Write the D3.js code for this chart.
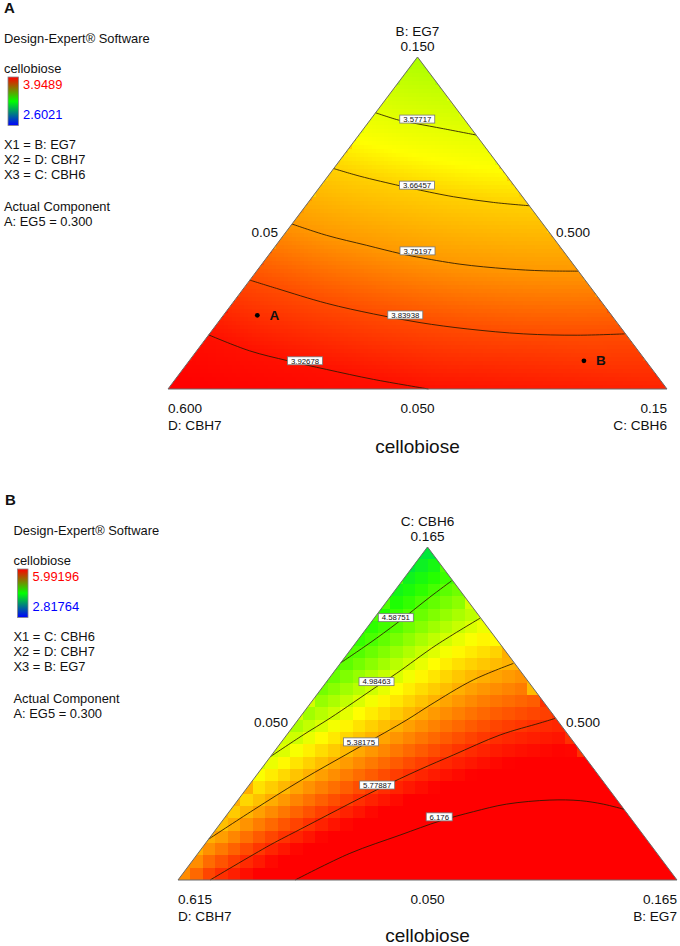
<!DOCTYPE html>
<html>
<head>
<meta charset="utf-8">
<script src="https://cdnjs.cloudflare.com/ajax/libs/d3/7.8.5/d3.min.js"></script>
<style>
  html, body { margin: 0; padding: 0; background: #fff; }
  svg { display: block; }
  text { font-family: "Liberation Sans", Arial, sans-serif; fill: #111; }
</style>
</head>
<body>
<svg id="chart" width="680" height="946"></svg>
<script>
// panel A: contour levels, read as (top component, right component) mixture amounts
const levelsA = [3.57717, 3.66457, 3.75197, 3.83938, 3.92678];
const levelNamesA = ["3.57717", "3.66457", "3.75197", "3.83938", "3.92678"];
const topA = [
  [.1332, .1309, .1299, .1284, .1265],
  [.1164, .1141, .1112, .1101, .1079, .1062, .1052],
  [.0997, .0963, .0933, .0908, .0898, .0876, .0862, .0856, .0855],
  [.0828, .0803, .0758, .0726, .0700, .0681, .0666, .0662, .0666],
  [.0663, .0615, .0585, .0559, .0529, .0500]
];
const rightA = [
  [.0500, .0560, .0599, .0660, .0735],
  [.0500, .0564, .0659, .0698, .0783, .0871, .0948],
  [.0500, .0586, .0681, .0761, .0799, .0897, .0998, .1074, .1145],
  [.0500, .0566, .0689, .0799, .0905, .1009, .1130, .1239, .1332],
  [.0500, .0606, .0698, .0788, .0897, .1022]
];
const labelTopA = [.1313, .1114, .0916, .0723, .0585];
const labelRightA = [.0593, .0692, .0792, .0864, .0732];
// extra readings of the surface away from the contours (corners)
const cornerLevelsA = [3.47, 3.965, 3.90];
const cornerTopA = [.15, .05, .05];
const cornerRightA = [.05, .05, .15];
const pointNamesA = ["A", "B"];
const pointTopA = [.0722, .0585];
const pointRightA = [.0568, .1291];
const colorLevelsA = [3.47, 3.577, 3.62, 3.665, 3.752, 3.839, 3.927, 3.96];
const colorsA = ["#aaff00", "#e4ff00", "#ffff00", "#ffd000", "#ff9800", "#ff4c00", "#ff1000", "#ff0000"];

// panel B
const levelsB = [4.58751, 4.98463, 5.38175, 5.77887, 6.176];
const levelNamesB = ["4.58751", "4.98463", "5.38175", "5.77887", "6.176"];
const topB = [
  [.1250, .1319, .1387, .1477, .1533],
  [.0926, .1001, .1059, .1168, .1214, .1312, .1404],
  [.0641, .0742, .0842, .0960, .1053, .1104, .1191, .1248],
  [.0500, .0621, .0675, .0811, .0882, .0932, .1001, .1042, .1058],
  [.0500, .0592, .0655, .0704, .0736, .0762, .0776, .0774, .0762, .0744]
];
const rightB = [
  [.0500, .0533, .0561, .0592, .0614],
  [.0500, .0538, .0571, .0624, .0647, .0690, .0744],
  [.0500, .0553, .0610, .0689, .0751, .0779, .0835, .0899],
  [.0574, .0652, .0694, .0802, .0867, .0919, .0992, .1063, .1090],
  [.0770, .0850, .0934, .1002, .1063, .1126, .1219, .1290, .1349, .1406]
];
const labelTopB = [.1406, .1185, .0977, .0828, .0718];
const labelRightB = [.0549, .0615, .0683, .0795, .0993];
const cornerLevelsB = [4.2, 5.5, 6.3];
const cornerTopB = [.165, .05, .05];
const cornerRightB = [.05, .05, .165];
const colorLevelsB = [4.2, 4.45, 4.59, 4.98, 5.1, 5.38, 5.78, 5.95];
const colorsB = ["#00e83a", "#20ff00", "#50ff00", "#d0ff00", "#ffff00", "#ffb000", "#ff3000", "#ff0000"];

const svg = d3.select("#chart");
const defs = svg.append("defs");

// legend bar goes red - green - blue
const legendColors = ["#ff0000", "#00ff00", "#0000ff"];
const grad = defs.append("linearGradient").attr("id", "legendGrad")
  .attr("x1", 0).attr("y1", 0).attr("x2", 0).attr("y2", 1);
legendColors.forEach((c, i) => {
  grad.append("stop").attr("offset", i / 2).attr("stop-color", c);
});

// walk along a contour so the triangulation links each contour to its neighbours
function samplePoints(pts, level, step) {
  const out = [];
  for (let i = 0; i < pts.length - 1; i++) {
    const a = pts[i], b = pts[i + 1];
    const n = Math.max(1, Math.ceil(Math.hypot(b[0] - a[0], b[1] - a[1]) / step));
    for (let j = 0; j < n; j++) {
      out.push({ x: a[0] + (b[0] - a[0]) * j / n, y: a[1] + (b[1] - a[1]) * j / n, v: level });
    }
  }
  const last = pts[pts.length - 1];
  out.push({ x: last[0], y: last[1], v: level });
  return out;
}

function drawPanel(p) {
  const g = svg.append("g");
  const span = p.hi - p.lo;
  const y = d3.scaleLinear().domain([p.lo, p.hi]).range([p.baseY, p.apexY]);
  const xBase = d3.scaleLinear().domain([0, span]).range([p.leftX, p.rightX]);
  const pos = (top, right) => [xBase(right - p.lo + (top - p.lo) / 2), y(top)];
  const color = d3.scaleLinear().domain(p.colorLevels).range(p.colors).clamp(true);

  const clipId = "tri" + p.name;
  const triangle = [pos(p.hi, p.lo), pos(p.lo, p.lo), pos(p.lo, p.hi)];
  defs.append("clipPath").attr("id", clipId).append("polygon").attr("points", triangle.join(" "));

  // the surface as a grid of cells, coloured from the contour readings around each cell
  const lines = p.levels.map((lv, k) => ({
    level: lv,
    pts: p.tops[k].map((t, i) => pos(t, p.rights[k][i]))
  }));
  let known = lines.flatMap(l => samplePoints(l.pts, l.level, 5));
  p.cornerLevels.forEach((lv, k) => {
    const c = pos(p.cornerTops[k], p.cornerRights[k]);
    known.push({ x: c[0], y: c[1], v: lv });
  });
  const delaunay = d3.Delaunay.from(known, d => d.x, d => d.y);
  const tris = delaunay.triangles;
  const valueAt = (cx, cy) => {
    for (let t = 0; t < tris.length; t += 3) {
      const a = known[tris[t]], b = known[tris[t + 1]], c = known[tris[t + 2]];
      const den = (b.y - c.y) * (a.x - c.x) + (c.x - b.x) * (a.y - c.y);
      if (!den) continue;
      const u = ((b.y - c.y) * (cx - c.x) + (c.x - b.x) * (cy - c.y)) / den;
      const w = ((c.y - a.y) * (cx - c.x) + (a.x - c.x) * (cy - c.y)) / den;
      if (u >= -1e-6 && w >= -1e-6 && u + w <= 1 + 1e-6) return u * a.v + w * b.v + (1 - u - w) * c.v;
    }
    return known[delaunay.find(cx, cy)].v;
  };

  const cellW = (p.rightX - p.leftX) / p.cols;
  const cellH = (p.baseY - p.apexY) / p.rows;
  const cells = [];
  d3.range(p.rows).forEach(r => {
    d3.range(p.cols).forEach(c => {
      const cx = p.leftX + (c + .5) * cellW;
      const cy = p.apexY + (r + .5) * cellH;
      const half = (cy - p.apexY + cellH) * (p.rightX - p.leftX) / 2 / (p.baseY - p.apexY);
      if (Math.abs(cx - (p.leftX + p.rightX) / 2) > half + cellW) return;
      cells.push({ x: cx - cellW / 2, y: cy - cellH / 2, v: valueAt(cx, cy) });
    });
  });
  g.append("g").attr("clip-path", `url(#${clipId})`).selectAll("rect").data(cells).join("rect")
    .attr("x", d => d.x).attr("y", d => d.y)
    .attr("width", cellW + .5).attr("height", cellH + .5)
    .attr("fill", d => color(d.v))
    .attr("shape-rendering", "crispEdges");

  // contour lines
  const line = d3.line().curve(d3.curveCatmullRom);
  g.append("g").selectAll("path").data(lines).join("path")
    .attr("d", d => line(d.pts))
    .attr("fill", "none").attr("stroke", "#2a1a00").attr("stroke-opacity", .85).attr("stroke-width", 1);

  g.append("polygon").attr("points", triangle.join(" "))
    .attr("fill", "none").attr("stroke", "#6a6a6a").attr("stroke-width", 1);

  // contour labels
  p.levelNames.forEach((name, k) => {
    const c = pos(p.labelTops[k], p.labelRights[k]);
    const w = name.length > 5 ? 35 : 26;
    g.append("rect").attr("x", c[0] - w / 2).attr("y", c[1] - 4)
      .attr("width", w).attr("height", 8)
      .attr("fill", "#fff").attr("stroke", "#777").attr("stroke-width", .8);
    g.append("text").attr("x", c[0]).attr("y", c[1] + 2.8)
      .attr("text-anchor", "middle").attr("font-size", 7.8).attr("fill", "#333").text(name);
  });

  // design points
  (p.pointNames || []).forEach((name, k) => {
    const c = pos(p.pointTops[k], p.pointRights[k]);
    g.append("circle").attr("cx", c[0]).attr("cy", c[1]).attr("r", 2.4).attr("fill", "#000");
    g.append("text").attr("x", c[0] + 17).attr("y", c[1] + 4.5)
      .attr("text-anchor", "middle").attr("font-size", 13.5).attr("font-weight", "bold").text(name);
  });

  // corner and edge text
  const t = (x, yy, s, anchor, size) => g.append("text").attr("x", x).attr("y", yy)
    .attr("text-anchor", anchor || "start").attr("font-size", size || 13.6).text(s);
  const midX = (p.leftX + p.rightX) / 2;
  t(midX, p.apexY - 21, p.apexName, "middle");
  t(midX, p.apexY - 6, p.apexMax, "middle");
  t(p.leftX + 110, p.edgeY, p.leftMid, "end");
  t(p.rightX - 111, p.edgeY, p.rightMid);
  t(p.leftX, p.baseY + 24, p.leftMax);
  t(p.leftX, p.baseY + 41, p.leftName);
  t(midX, p.baseY + 24, p.baseMid, "middle");
  t(p.rightX, p.baseY + 24, p.rightMax, "end");
  t(p.rightX, p.baseY + 41, p.rightName, "end");
  t(midX, p.titleY, "cellobiose", "middle", 19);

  // left side notes and legend
  const lx = p.noteX, oy = p.noteY;
  g.append("text").attr("x", p.name === "A" ? 4 : 5).attr("y", oy - 30)
    .attr("font-size", 15).attr("font-weight", "bold").text(p.name);
  t(lx, oy, "Design-Expert® Software", "start", 12.9);
  t(lx, oy + 30, "cellobiose", "start", 12.9);
  g.append("rect").attr("x", lx + 4).attr("y", oy + 34).attr("width", 10.5).attr("height", 48.5)
    .attr("fill", "url(#legendGrad)").attr("stroke", "#888").attr("stroke-width", .8);
  t(lx + 19, oy + 45.5, p.legendMax, "start", 12.9).style("fill", "#ff0000");
  t(lx + 19, oy + 76, p.legendMin, "start", 12.9).style("fill", "#0000ff");
  p.notes.forEach((s, i) => t(lx, oy + 106 + i * 15.2, s, "start", 12.9));
  t(lx, oy + 168, "Actual Component", "start", 12.9);
  t(lx, oy + 183, "A: EG5 = 0.300", "start", 12.9);
}

drawPanel({
  name: "A", lo: .05, hi: .15, leftX: 168, rightX: 667, baseY: 389, apexY: 57,
  cols: 125, rows: 83, noteX: 4, noteY: 43, edgeY: 236.5, titleY: 453,
  levels: levelsA, levelNames: levelNamesA, tops: topA, rights: rightA,
  labelTops: labelTopA, labelRights: labelRightA,
  cornerLevels: cornerLevelsA, cornerTops: cornerTopA, cornerRights: cornerRightA,
  colorLevels: colorLevelsA, colors: colorsA,
  pointNames: pointNamesA, pointTops: pointTopA, pointRights: pointRightA,
  apexName: "B: EG7", apexMax: "0.150", leftMid: "0.05", rightMid: "0.500",
  leftMax: "0.600", leftName: "D: CBH7", baseMid: "0.050", rightMax: "0.15", rightName: "C: CBH6",
  legendMax: "3.9489", legendMin: "2.6021",
  notes: ["X1 = B: EG7", "X2 = D: CBH7", "X3 = C: CBH6"]
});

drawPanel({
  name: "B", lo: .05, hi: .165, leftX: 178, rightX: 677, baseY: 880, apexY: 547,
  cols: 40, rows: 27, noteX: 13.5, noteY: 535, edgeY: 726.5, titleY: 941.5,
  levels: levelsB, levelNames: levelNamesB, tops: topB, rights: rightB,
  labelTops: labelTopB, labelRights: labelRightB,
  cornerLevels: cornerLevelsB, cornerTops: cornerTopB, cornerRights: cornerRightB,
  colorLevels: colorLevelsB, colors: colorsB,
  apexName: "C: CBH6", apexMax: "0.165", leftMid: "0.050", rightMid: "0.500",
  leftMax: "0.615", leftName: "D: CBH7", baseMid: "0.050", rightMax: "0.165", rightName: "B: EG7",
  legendMax: "5.99196", legendMin: "2.81764",
  notes: ["X1 = C: CBH6", "X2 = D: CBH7", "X3 = B: EG7"]
});
</script>
</body>
</html>
